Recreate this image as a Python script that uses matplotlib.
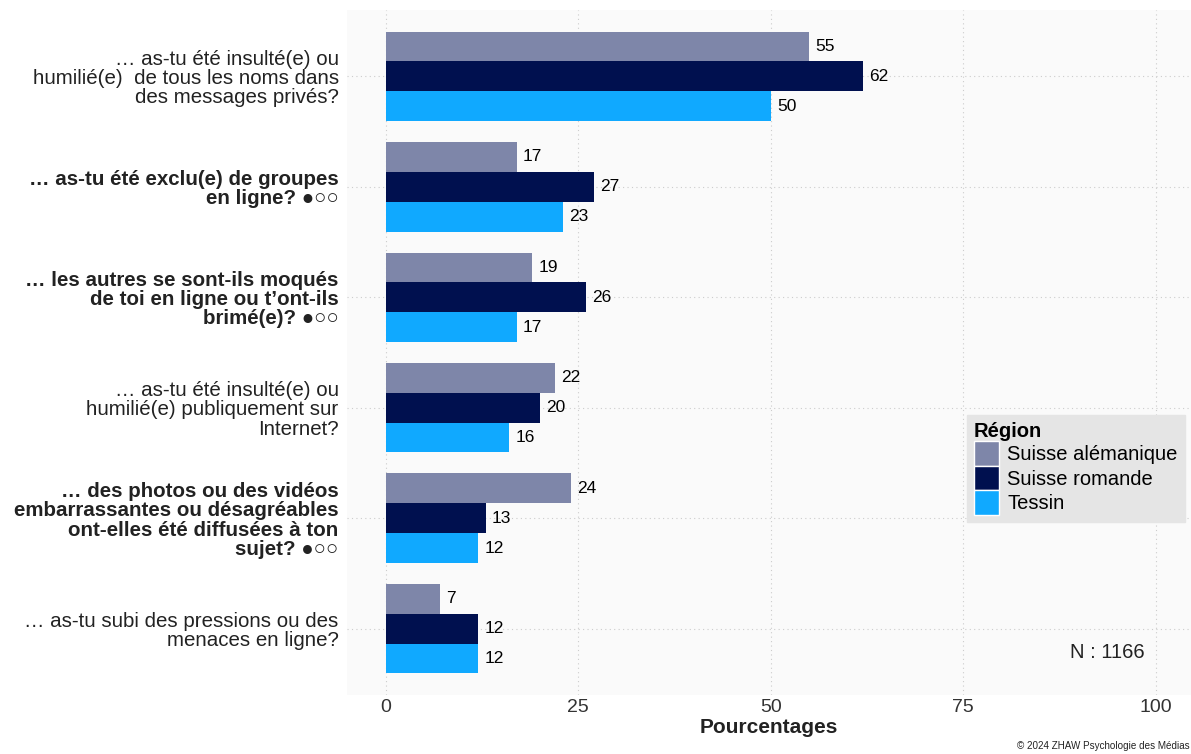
import matplotlib
matplotlib.use("Agg")
import matplotlib.pyplot as plt
import numpy as np
from matplotlib.patches import Patch

plt.rcParams['font.family'] = ['Liberation Sans', 'DejaVu Sans']

questions = [
    "… as-tu été insulté(e) ou\nhumilié(e)  de tous les noms dans\ndes messages privés?",
    "… as-tu été exclu(e) de groupes\nen ligne? ●○○",
    "… les autres se sont-ils moqués\nde toi en ligne ou t’ont-ils\nbrimé(e)? ●○○",
    "… as-tu été insulté(e) ou\nhumilié(e) publiquement sur\nInternet?",
    "… des photos ou des vidéos\nembarrassantes ou désagréables\nont-elles été diffusées à ton\nsujet? ●○○",
    "… as-tu subi des pressions ou des\nmenaces en ligne?",
]
bold_flags = [False, True, True, False, True, False]

regions = ["Suisse alémanique", "Suisse romande", "Tessin"]
alemanique = [55, 17, 19, 22, 24, 7]
romande = [62, 27, 26, 20, 13, 12]
tessin = [50, 23, 17, 16, 12, 12]
colors = ["#7E86A9", "#00104F", "#10A9FF"]
xticks = [0, 25, 50, 75, 100]

fig = plt.figure(figsize=(11.91, 7.54), dpi=100)
ax = fig.add_axes([347/1191, 1-695/754, 1-347/1191, (695-10)/754])
ax.set_facecolor("#FAFAFA")

n = len(questions)
y = np.arange(n)
bw = 0.27
series = [alemanique, romande, tessin]
for i, (vals, c) in enumerate(zip(series, colors)):
    pos = y + (i - 1) * bw
    ax.barh(pos, vals, height=bw, color=c, zorder=3)
    for p, v in zip(pos, vals):
        ax.text(v + 0.8, p, f"{v}", va="center", ha="left", fontsize=12.5, color="#000000", zorder=4)

ax.set_xlim(-5.05, 104.6)
ax.set_ylim(n - 1 + 0.6, -0.6)
ax.set_xticks(xticks)
ax.set_xticklabels([str(t) for t in xticks], fontsize=14, color="#333333")
ax.set_yticks(y)
ax.set_yticklabels(questions, fontsize=14.8, color="#222222", linespacing=1.02)
for lab, b in zip(ax.get_yticklabels(), bold_flags):
    if b:
        lab.set_fontweight("bold")
ax.tick_params(axis='both', length=0)
ax.tick_params(axis='y', pad=6)
ax.tick_params(axis='x', pad=3)
ax.grid(True, color="#CCCCCC", linestyle=(0, (1, 3)), linewidth=0.8, zorder=0)
for s in ax.spines.values():
    s.set_visible(False)

ax.set_xlabel("Pourcentages", fontsize=15, fontweight="bold", color="#222222", labelpad=1)

handles = [Patch(facecolor=c, edgecolor="white", linewidth=1, label=r) for c, r in zip(colors, regions)]
leg = ax.legend(handles=handles, title="Région", loc="upper left",
                bbox_to_anchor=((967-347)/(1191-347), 1-(415-10)/685),
                fontsize=14.5, title_fontproperties={'weight': 'bold', 'size': 14.5},
                frameon=True, fancybox=False, facecolor="#E5E5E5", edgecolor="#E5E5E5",
                handlelength=1.25, handleheight=1.5, handletextpad=0.4, labelspacing=0.0,
                borderpad=0.35, borderaxespad=0)
leg._legend_box.align = "left"
leg.get_frame().set_alpha(1)

ax.text(1145, 754 - 652, "N : 1166", transform=None, fontsize=14.5, ha="right", va="center", color="#222222")
fig.text(1190/1191, 1-746/754, "© 2024 ZHAW Psychologie des Médias", fontsize=7.1, ha="right", va="center", color="#222222")

fig.savefig("out.png", dpi=100)
